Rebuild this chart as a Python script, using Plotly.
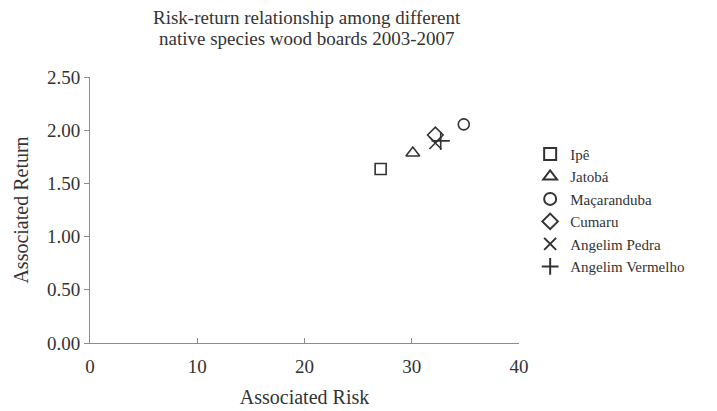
import plotly.graph_objects as go

species = ["Ipê", "Jatobá", "Maçaranduba", "Cumaru", "Angelim Pedra", "Angelim Vermelho"]
risk = [27.1, 30.1, 34.85, 32.2, 32.2, 32.7]
ret = [1.635, 1.786, 2.055, 1.955, 1.88, 1.90]
symbols = ["square-open", "triangle-up-open", "circle-open", "diamond-open", "x-thin-open", "cross-thin-open"]
sizes = [11, 12, 11, 12, 12, 13]

x_ticks = [0, 10, 20, 30, 40]
y_ticks = [0.0, 0.5, 1.0, 1.5, 2.0, 2.5]

title_lines = ["Risk-return relationship among different", "native species wood boards 2003-2007"]

font = "Liberation Serif, Times New Roman, serif"
ink = "#333333"
axis_col = "#8c8c8c"

fig = go.Figure()
for s, x, y, sym, sz in zip(species, risk, ret, symbols, sizes):
    fig.add_trace(go.Scatter(
        x=[x], y=[y], mode="markers", name=s,
        marker=dict(symbol=sym, size=sz, color=ink, line=dict(color=ink, width=1.6)),
    ))

for i, line in enumerate(title_lines):
    fig.add_annotation(
        text=line, xref="paper", yref="paper",
        x=(306.7 - 90) / 429, xanchor="center",
        y=(343 - (17.5 + 21 * i)) / 266, yanchor="middle",
        showarrow=False, font=dict(family=font, size=19, color=ink),
    )

# page body has an 8px margin, so the figure is sized/offset to compensate
fig.update_layout(
    width=709, height=403,
    margin=dict(l=82, r=198, t=69, b=68),
    paper_bgcolor="white", plot_bgcolor="white",
    font=dict(family=font, color=ink, size=18),
    showlegend=True,
    legend=dict(
        x=1.026, xanchor="left", y=0.772, yanchor="top",
        font=dict(family=font, size=15, color=ink),
        bgcolor="rgba(0,0,0,0)", tracegroupgap=0, itemsizing="constant",
    ),
    xaxis=dict(
        range=[0, 40], tickvals=x_ticks, ticktext=[str(v) for v in x_ticks],
        showline=True, linecolor=axis_col, linewidth=1,
        ticks="inside", ticklen=5, tickcolor=axis_col, ticklabelstandoff=6,
        showgrid=False, zeroline=False, automargin=False,
        title=dict(text="Associated Risk", font=dict(family=font, size=20, color=ink), standoff=14),
        tickfont=dict(family=font, size=19, color=ink),
    ),
    yaxis=dict(
        range=[0, 2.5], tickvals=y_ticks, ticktext=[f"{v:.2f}" for v in y_ticks],
        showline=True, linecolor=axis_col, linewidth=1,
        ticks="outside", ticklen=5, tickcolor=axis_col,
        showgrid=False, zeroline=False, automargin=False,
        title=dict(text="Associated Return", font=dict(family=font, size=20, color=ink), standoff=12),
        tickfont=dict(family=font, size=19, color=ink),
    ),
)

fig.write_html("out.html")
